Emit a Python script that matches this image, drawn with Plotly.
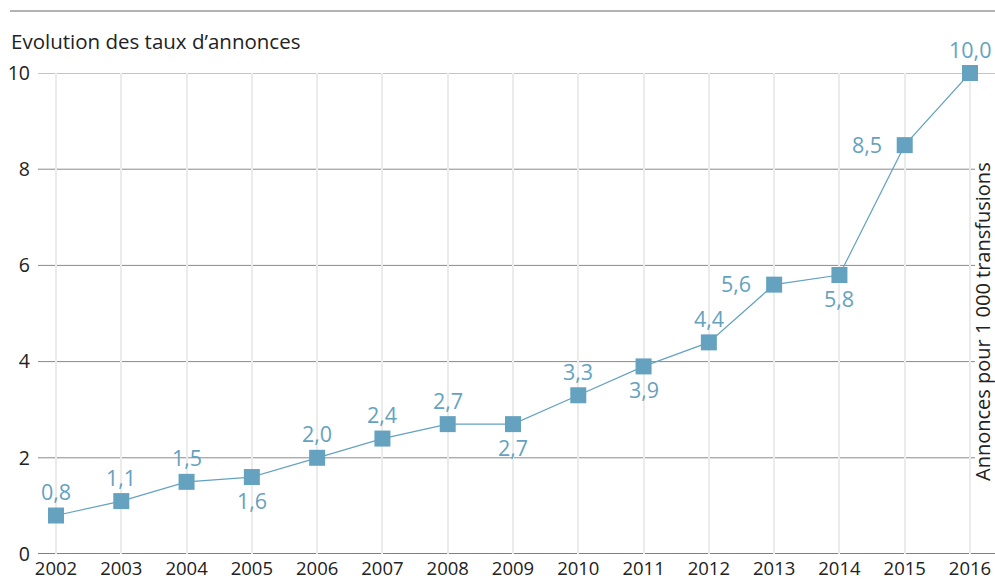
import plotly.graph_objects as go

years = list(range(2002, 2017))
rates = [0.8, 1.1, 1.5, 1.6, 2.0, 2.4, 2.7, 2.7, 3.3, 3.9, 4.4, 5.6, 5.8, 8.5, 10.0]
label_side = ["above", "above", "above", "below", "above", "above", "above", "below",
              "above", "below", "above", "left", "below", "left", "above"]
y_ticks = [0, 2, 4, 6, 8, 10]

W, H = 995, 582
L, R, T, B = 38, 0, 73, 28
plot_w = W - L - R
plot_h = H - T - B

BLUE = "#64a2c0"
TEXT = "#222222"
FONT = "Open Sans, Noto Sans, sans-serif"

# x range chosen so 2002 sits at 56px and 2016 at 970px
px_per_year = (970 - 56) / 14
x0 = 2002 - (56 - L) / px_per_year
x1 = x0 + plot_w / px_per_year

fig = go.Figure()
fig.add_trace(go.Scatter(
    x=years, y=rates, mode="lines+markers",
    line=dict(color=BLUE, width=1.2),
    marker=dict(symbol="square", size=16, color=BLUE),
    cliponaxis=False, hoverinfo="skip", showlegend=False,
))

def fmt(v):
    return f"{v:.1f}".replace(".", ",")

annotations = []
for x, v, side in zip(years, rates, label_side):
    ann = dict(x=x, y=v, xref="x", yref="y", text=fmt(v), showarrow=False,
               font=dict(family=FONT, size=21.5, color=BLUE))
    if side == "above":
        ann.update(yshift=24)
    elif side == "below":
        ann.update(yshift=-23)
    else:
        ann.update(xshift=-38, yshift=1)
    annotations.append(ann)

def px_x(p):
    return (p - L) / plot_w

def px_y(p):
    return (H - B - p) / plot_h

annotations.append(dict(x=px_x(9), y=px_y(41), xref="paper", yref="paper",
                        xanchor="left", yanchor="middle", showarrow=False,
                        text="Evolution des taux d’annonces",
                        font=dict(family=FONT, size=20.5, color=TEXT)))
annotations.append(dict(x=px_x(982), y=px_y(322), xref="paper", yref="paper",
                        xanchor="center", yanchor="middle", showarrow=False,
                        textangle=-90, text="Annonces pour 1 000 transfusions",
                        borderpad=0,
                        font=dict(family=FONT, size=20, color=TEXT)))

shapes = []
# top rule
shapes.append(dict(type="line", xref="paper", yref="paper",
                   x0=px_x(10), x1=1, y0=px_y(11), y1=px_y(11),
                   line=dict(color="#9a9a9a", width=1.5)))
for t in y_ticks:
    if t == 0:
        shapes.append(dict(type="line", xref="paper", yref="y", x0=0, x1=1, y0=0, y1=0,
                           line=dict(color="#555555", width=1.5)))
    elif t == 10:
        shapes.append(dict(type="line", xref="paper", yref="y", x0=0, x1=1, y0=t, y1=t,
                           line=dict(color="#8a8a8a", width=1)))
    else:
        shapes.append(dict(type="line", xref="paper", yref="y", x0=0, x1=px_x(975),
                           y0=t, y1=t, line=dict(color="#8a8a8a", width=1)))

fig.update_layout(
    width=W, height=H,
    margin=dict(l=L, r=R, t=T, b=B, pad=0),
    paper_bgcolor="white", plot_bgcolor="white",
    xaxis=dict(range=[x0, x1], tickvals=years, ticktext=[str(y) for y in years],
               showgrid=True, gridcolor="#ebebeb", gridwidth=1.8,
               zeroline=False, showline=False, ticks="",
               ticklabelstandoff=1, automargin=False,
               tickfont=dict(family=FONT, size=18.5, color=TEXT), fixedrange=True),
    yaxis=dict(range=[0, 10], tickvals=y_ticks, ticktext=[str(t) for t in y_ticks],
               showgrid=False, zeroline=False, showline=False, ticks="",
               ticklabelstandoff=7, automargin=False,
               tickfont=dict(family=FONT, size=19.5, color=TEXT), fixedrange=True),
    annotations=annotations,
    shapes=[dict(s, layer="below") for s in shapes],
)

fig.write_html("out.html")
